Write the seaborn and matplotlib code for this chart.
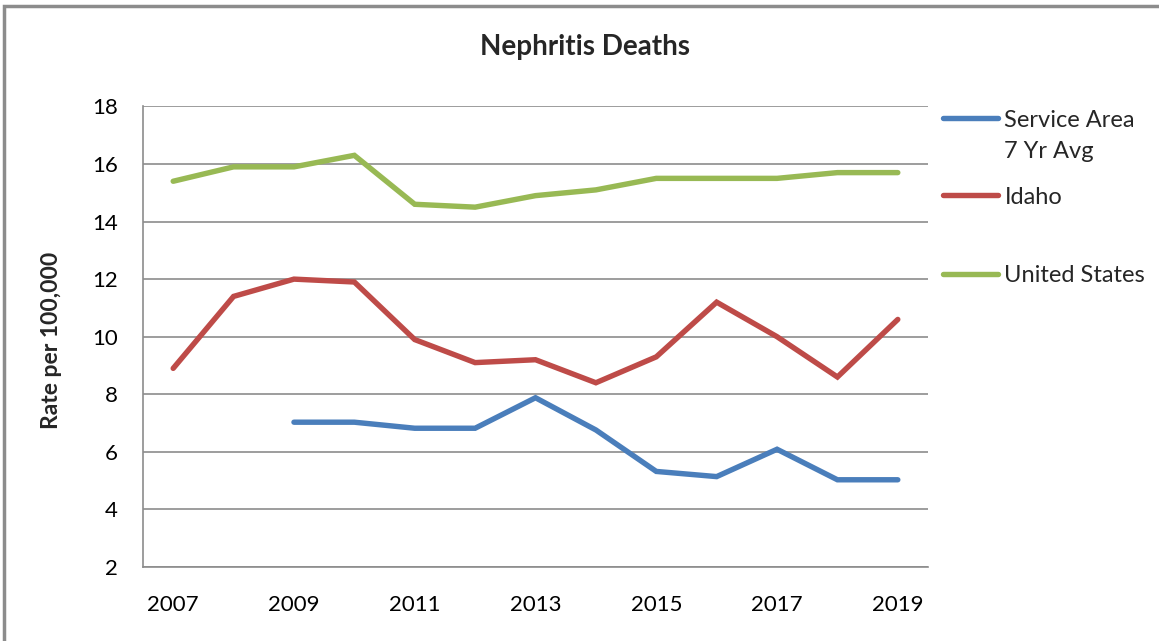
import matplotlib
matplotlib.use("Agg")
import matplotlib.pyplot as plt
import seaborn as sns
import pandas as pd
import numpy as np
from matplotlib.patches import Rectangle

years = list(range(2007, 2020))
service_area = [np.nan, np.nan, 7.03, 7.03, 6.82, 6.82, 7.88, 6.76, 5.32, 5.14, 6.09, 5.03, 5.03]
idaho = [8.9, 11.4, 12.0, 11.9, 9.9, 9.1, 9.2, 8.4, 9.3, 11.2, 10.0, 8.6, 10.6]
united_states = [15.4, 15.9, 15.9, 16.3, 14.6, 14.5, 14.9, 15.1, 15.5, 15.5, 15.5, 15.7, 15.7]

series_names = ["Service Area\n7 Yr Avg", "Idaho", "United States"]
colors = ["#4A7EBB", "#BE4B48", "#98B954"]

df = pd.DataFrame({"Year": years,
                   series_names[0]: service_area,
                   series_names[1]: idaho,
                   series_names[2]: united_states})
long_df = df.melt(id_vars="Year", var_name="Series", value_name="Rate")

sns.set_style("white")
plt.rcParams["font.family"] = ["Lato", "DejaVu Sans"]

fig = plt.figure(figsize=(11.59, 6.41), dpi=100)
ax = fig.add_axes([143 / 1159, 1 - 567 / 641, (928 - 143) / 1159, (567 - 106.4) / 641])

sns.lineplot(data=long_df, x="Year", y="Rate", hue="Series", palette=colors,
             linewidth=3.9, ax=ax, legend=False)
for line in ax.get_lines():
    line.set_solid_capstyle("round")
    line.set_solid_joinstyle("miter")

ax.set_xlim(2006.5, 2019.5)
ax.set_ylim(2, 18)
ax.set_xticks(years[::2])
ax.set_yticks(range(2, 19, 2))
ax.tick_params(axis="both", length=0, labelsize=16, colors="black")
ax.tick_params(axis="y", pad=18)
ax.tick_params(axis="x", pad=20)
ax.set_xlabel("")
ax.set_ylabel("")
ax.yaxis.grid(True, color="#8c8c8c", linewidth=1.2)
ax.set_axisbelow(True)
for s in ["top", "right"]:
    ax.spines[s].set_visible(False)
for s in ["left", "bottom"]:
    ax.spines[s].set_color("#8c8c8c")
    ax.spines[s].set_linewidth(1.2)

# legend: one entry per row, placed like the original
legend_rows = [136, 197, 276]
for name, c, y in zip(series_names, colors, legend_rows):
    h = plt.Line2D([], [], color=c, linewidth=3.9, solid_capstyle="round")
    leg = fig.legend([h], [name], loc="center left",
                     bbox_to_anchor=(943 / 1159, 1 - y / 641), frameon=False,
                     fontsize=17, handlelength=2.35, handletextpad=0.25,
                     borderpad=0, borderaxespad=0)
    txt = leg.get_texts()[0]
    if "\n" in name:
        txt.set_linespacing(1.6)
        hl = leg.legend_handles[0]
        hl.set_ydata(np.asarray(hl.get_ydata()) + 13)

fig.text(585 / 1159, 1 - 47 / 641, "Nephritis Deaths", ha="center", va="center",
         fontsize=20, fontweight="bold")
fig.text(52 / 1159, 1 - 340 / 641, "Rate per 100,000", ha="center", va="center",
         rotation=90, fontsize=16.5, fontweight="bold")

# outer chart frame
fig.patches.append(Rectangle((4 / 1159, -0.05), 1.1, 1 - 6 / 641 + 0.05,
                             transform=fig.transFigure, fill=False,
                             edgecolor="#8c8c8c", linewidth=2.5))

fig.savefig("out.png", dpi=100)
